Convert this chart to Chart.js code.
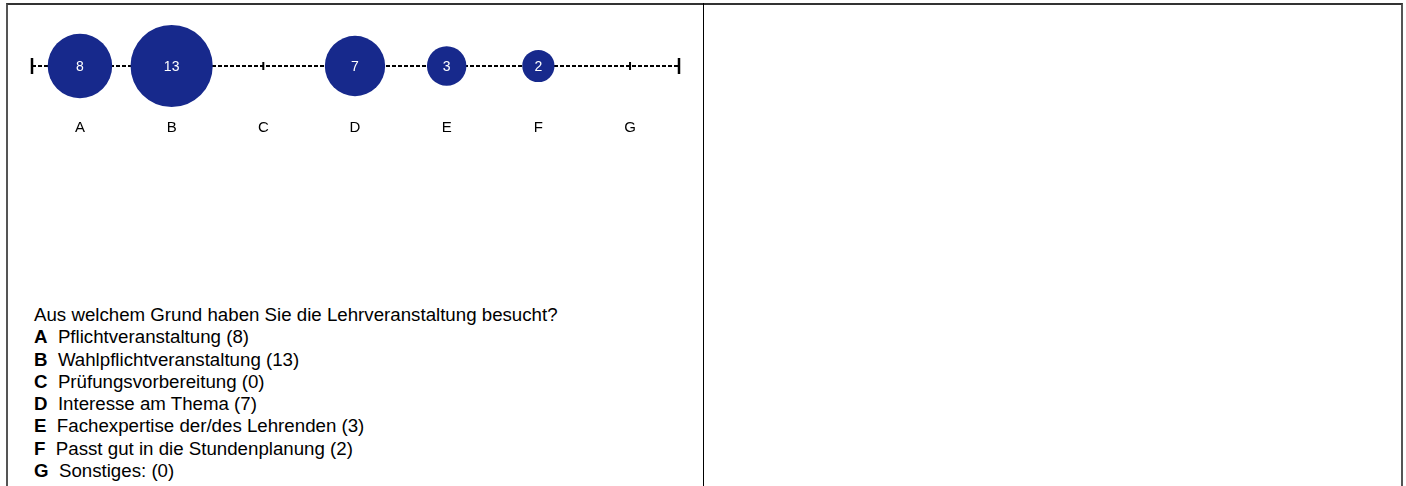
<!DOCTYPE html>
<html>
<head>
<meta charset="utf-8">
<script src="https://cdn.jsdelivr.net/npm/chart.js@4"></script>
<style>
  body { margin: 0; background: #fff; font-family: "Liberation Sans", Arial, sans-serif; }
  #frame {
    position: absolute; left: 6px; top: 3px; width: 1397px; height: 600px;
    box-sizing: border-box; border-top: 2px solid #333;
    border-left: 2px solid #555; border-right: 2px solid #555;
  }
  #divider { position: absolute; left: 703px; top: 3px; width: 1px; height: 600px; background: #000; }
  #chartBox { position: absolute; left: 0; top: 0; width: 704px; height: 150px; }
  #legend {
    position: absolute; left: 34px; top: 304px;
    font-size: 18.7px; line-height: 22.3px; color: #000;
  }
</style>
</head>
<body>
<div id="frame"></div>
<div id="divider"></div>
<div id="chartBox"><canvas id="bubbleChart"></canvas></div>
<div id="legend"></div>

<script>
const question = 'Aus welchem Grund haben Sie die Lehrveranstaltung besucht?';
const letters = ['A', 'B', 'C', 'D', 'E', 'F', 'G'];
const answers = [
  'Pflichtveranstaltung',
  'Wahlpflichtveranstaltung',
  'Prüfungsvorbereitung',
  'Interesse am Thema',
  'Fachexpertise der/des Lehrenden',
  'Passt gut in die Stundenplanung',
  'Sonstiges:'
];
const counts = [8, 13, 0, 7, 3, 2, 0];

const bubbleColor = '#17298c';
const fontFamily = '"Liberation Sans", Arial, sans-serif';

// legend below the chart
let html = question + '<br>';
letters.forEach((l, i) => {
  html += '<b>' + l + '</b>&nbsp; ' + answers[i] + ' (' + counts[i] + ')<br>';
});
document.getElementById('legend').innerHTML = html;

// dashed axis line with tick marks + category letters
const axisLine = {
  id: 'axisLine',
  beforeDatasetsDraw(chart) {
    const { ctx, chartArea, scales } = chart;
    const y = scales.y.getPixelForValue(0);
    ctx.save();
    ctx.strokeStyle = '#000';
    ctx.lineWidth = 2;
    ctx.setLineDash([4, 2]);
    ctx.beginPath();
    ctx.moveTo(chartArea.left, y);
    ctx.lineTo(chartArea.right, y);
    ctx.stroke();
    ctx.setLineDash([]);
    // small ticks at every category
    letters.forEach((l, i) => {
      const x = scales.x.getPixelForValue(i);
      ctx.beginPath();
      ctx.moveTo(x, y - 4);
      ctx.lineTo(x, y + 4);
      ctx.stroke();
    });
    // end caps
    ctx.lineWidth = 2.5;
    [chartArea.left, chartArea.right].forEach(x => {
      ctx.beginPath();
      ctx.moveTo(x, y - 8);
      ctx.lineTo(x, y + 8);
      ctx.stroke();
    });
    // letters under the axis
    ctx.fillStyle = '#000';
    ctx.font = '15px ' + fontFamily;
    ctx.textAlign = 'center';
    ctx.textBaseline = 'middle';
    letters.forEach((l, i) => {
      ctx.fillText(l, scales.x.getPixelForValue(i), 128);
    });
    ctx.restore();
  }
};

// numbers inside bubbles
const bubbleLabels = {
  id: 'bubbleLabels',
  afterDatasetsDraw(chart) {
    const { ctx } = chart;
    const meta = chart.getDatasetMeta(0);
    ctx.save();
    ctx.fillStyle = '#fff';
    ctx.font = '14px ' + fontFamily;
    ctx.textAlign = 'center';
    ctx.textBaseline = 'middle';
    meta.data.forEach((pt, i) => {
      if (counts[i] > 0) ctx.fillText(String(counts[i]), pt.x, pt.y + 1);
    });
    ctx.restore();
  }
};

const data = {
  datasets: [{
    data: counts.map((v, i) => ({ x: i, y: 0, v: v })),
    backgroundColor: bubbleColor,
    borderWidth: 0,
    radius: ctx => 11.4 * Math.sqrt(ctx.raw ? ctx.raw.v : 0),
    clip: false
  }]
};

const config = {
  type: 'bubble',
  data,
  options: {
    responsive: true,
    maintainAspectRatio: false,
    animation: false,
    events: [],
    layout: { autoPadding: false, padding: { left: 32, right: 25, top: 20, bottom: 38 } },
    plugins: {
      legend: { display: false },
      tooltip: { enabled: false }
    },
    scales: {
      x: { type: 'linear', display: false, min: -0.523, max: 6.534 },
      y: { display: false, min: -1, max: 1 }
    }
  },
  plugins: [axisLine, bubbleLabels]
};

new Chart(document.getElementById('bubbleChart'), config);
</script>
</body>
</html>
